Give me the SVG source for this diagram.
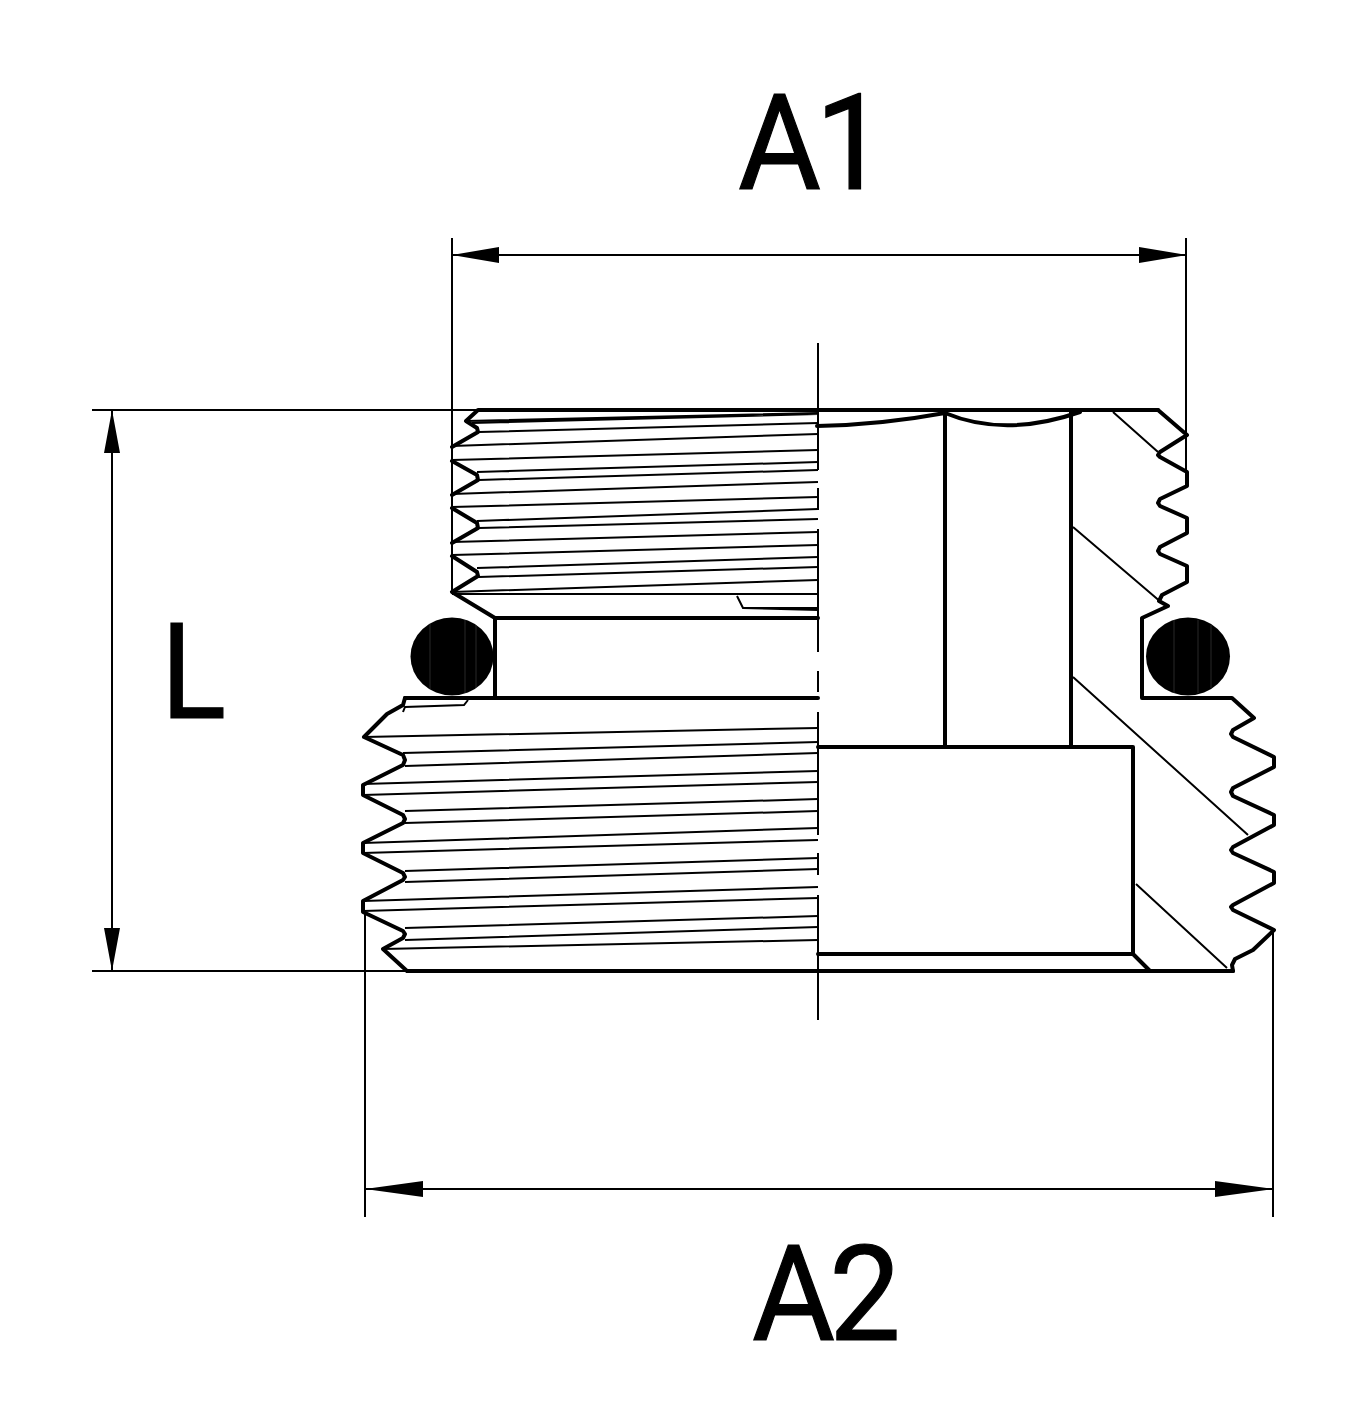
<svg xmlns="http://www.w3.org/2000/svg" width="1355" height="1411" viewBox="0 0 1355 1411">
<style>
.o{fill:none;stroke:#000;stroke-width:4;stroke-linejoin:round;stroke-linecap:round}
.t{fill:none;stroke:#000;stroke-width:2;stroke-linecap:butt}
.d{fill:none;stroke:#000;stroke-width:2}
.a{fill:#000;stroke:none}
.s{fill:none;stroke:#444;stroke-width:.6}
.l{font-family:Roboto,"Liberation Sans",sans-serif;font-size:134px;fill:#000;stroke:#000;stroke-width:1.2;letter-spacing:-6px}
</style>
<rect width="1355" height="1411" fill="#fff"/>
<g id="thread-upper-lines" class="t">
<path d="M466 421L818 413M472 423L818 414M479 432L818 423M452 446L818 434M452 460L818 450M477 472L818 462M479 480L818 470M452 494L818 482M452 507L818 497M477 521L818 509M479 528L818 519M452 542L818 532M452 555L818 545M477 568L818 557M479 577L818 567M452 592L818 580"/>
<path d="M452 594L818 594"/>
<path d="M737 596L743 608L818 608M743 608L818 610"/>
</g>
<g id="thread-lower-lines" class="t">
<path d="M364 737L818 728M403 753L818 742M405 766L818 753M363 784L818 771M363 795L818 782M405 811L818 799M405 823L818 811M363 843L818 828M363 853L818 840M405 871L818 858M405 882L818 869M363 901L818 887M363 911L818 898M405 928L818 916M405 940L818 927M383 949L818 940"/>
<path d="M468 700L464 705L405 707L403 712"/>
</g>
<g id="outline" class="o">
<path d="M1158 410H478L466 421L477 428L478 432L452 447M452 461L477 475L478 480L452 495M452 508L477 523L478 528L452 543M452 556L477 572L478 576L452 592L495 618H818M495 618V698M405 698H818"/>
<path d="M405 698L403 705L387 714L364 737L403 755L405 760L403 765L363 785V795L403 815L405 819L403 823L363 843V853L403 873L405 877L403 880L363 901V912L403 931L405 934L403 938L383 949L407 971H1233"/>
<path d="M817 426Q880 425 945 413Q1005 438 1080 412M945 413V746M1071 412V746"/>
<path d="M1158 410L1187 435L1160 452L1158 455L1160 457L1187 472V486L1160 499L1158 503L1160 506L1187 518V533L1160 547L1158 551L1160 554L1187 566V582L1162 595L1159 601L1168 606L1142 618V698H1232L1254 718L1233 730L1231 734L1233 737L1274 757V767L1233 788L1231 792L1233 796L1274 815V825L1233 847L1231 850L1233 853L1274 872V883L1233 905L1231 907L1233 910L1274 930L1253 950L1235 959L1232 965L1233 971"/>
<path d="M818 747H1133V954H818M1133 954L1150 971"/>
</g>
<g id="section-hatching" class="d">
<path d="M1113 412L1158 452M1073 527L1162 603M1073 677L1248 835M1136 884L1227 968"/>
</g>
<g id="centre-line" class="t">
<path d="M818 343V470M818 488V510M818 529V652M818 671V692M818 712V835M818 853V875M818 895V1020"/>
</g>
<g id="o-ring-left"><ellipse cx="452" cy="656.500" rx="41.500" ry="39"/><path class="s" d="M430 624V689M465 620V693M476 625V688"/></g>
<g id="o-ring-right"><ellipse cx="1188" cy="656.500" rx="42" ry="39"/><path class="s" d="M1174 620V693M1198 620V693M1211 625V688"/></g>
<g id="dimensions">
<path class="d" d="M452 238V592M1186 238V472M365 912V1217M1273 930V1217M92 410H478M92 971H407M452 255H1186M365 1189H1273M112 410V971"/>
<path class="a" d="M452 255L499 247V263ZM1187 255L1139 247V263ZM365 1189L423 1181V1197ZM1273 1189L1215 1181V1197ZM112 410L104 453H120ZM112 971L104 928H120Z"/>
<text class="l" transform="translate(738 189) scale(.95 1)">A1</text>
<text class="l" transform="translate(752 1340) scale(.95 1)">A2</text>
<text class="l" transform="translate(161 718) scale(.9 1)">L</text>
</g>
</svg>
